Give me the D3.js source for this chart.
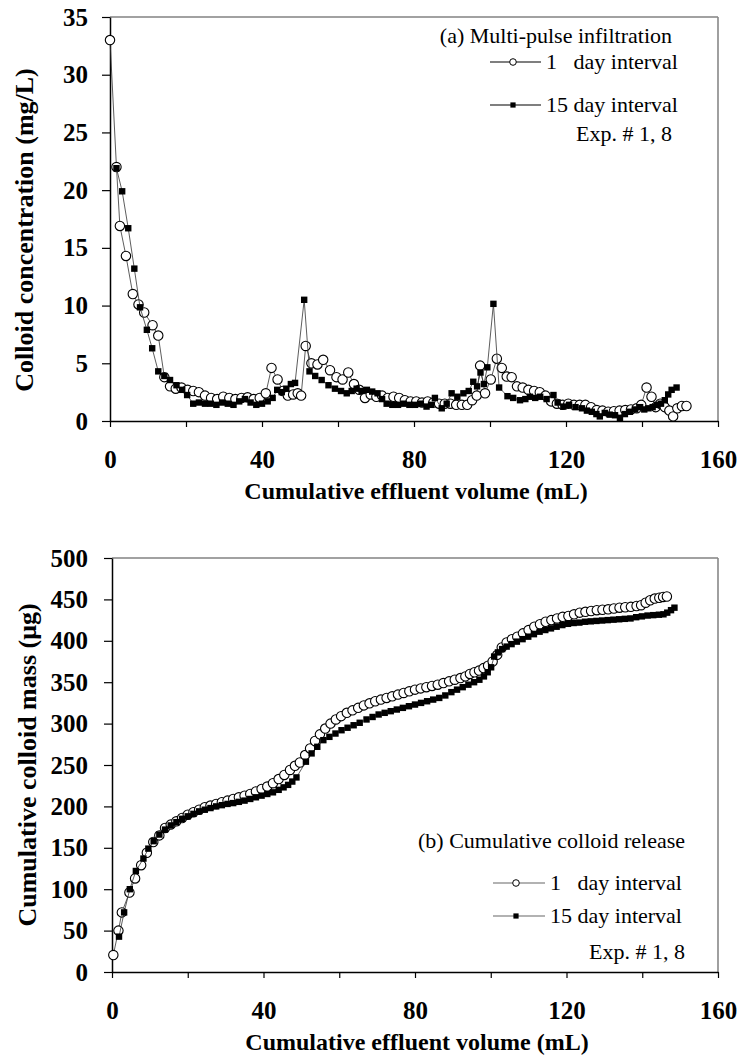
<!DOCTYPE html>
<html>
<head>
<meta charset="utf-8">
<script src="https://cdn.jsdelivr.net/npm/d3@7"></script>
<style>
  html, body { margin: 0; padding: 0; background: #fff; }
  svg { display: block; }
</style>
</head>
<body>
<svg id="chart" width="740" height="1057"></svg>
<script>
// ---------- DATA ----------
// Panel (a): colloid concentration (mg/L) vs cumulative effluent volume (mL)
const vol1 = [0, 1.7, 2.6, 4.2, 6.0, 7.5, 9.0, 11.2, 12.7, 14.3, 15.8, 17.3, 18.8, 20.4, 21.9, 23.4, 25.0, 26.6, 28.2, 29.8, 31.4, 33.0, 34.6, 36.2, 37.8, 39.4, 41.0, 42.5, 44.1, 45.5, 46.8, 48.2, 49.4, 50.3, 51.5, 53.0, 54.6, 56.1, 57.9, 59.6, 61.2, 62.7, 64.2, 65.6, 67.1, 68.6, 70.1, 71.6, 73.1, 74.6, 76.1, 77.6, 79.1, 80.6, 82.1, 83.6, 85.1, 86.6, 88.1, 89.6, 91.1, 92.6, 94.0, 95.3, 96.5, 97.4, 98.7, 100.2, 101.8, 103.1, 104.4, 105.7, 107.1, 108.6, 110.1, 111.6, 113.1, 114.6, 116.1, 117.6, 119.1, 120.6, 122.1, 123.6, 125.1, 126.6, 128.1, 129.6, 131.1, 132.6, 134.1, 135.6, 137.1, 138.6, 139.8, 141.2, 142.5, 143.6, 144.8, 146.0, 147.2, 148.2, 149.3, 150.5, 151.7];
const conc1 = [33.0, 22.0, 16.9, 14.3, 11.0, 10.1, 9.4, 8.3, 7.4, 3.8, 3.0, 2.8, 2.9, 2.7, 2.6, 2.5, 2.2, 2.0, 1.9, 2.1, 2.0, 1.9, 2.0, 2.05, 1.9, 2.0, 2.4, 4.6, 3.6, 2.6, 2.2, 2.3, 2.4, 2.2, 6.5, 5.0, 4.9, 5.3, 4.4, 3.8, 3.6, 4.2, 3.2, 2.7, 2.0, 2.3, 2.1, 2.2, 2.0, 2.1, 2.0, 1.8, 1.7, 1.7, 1.6, 1.7, 1.6, 1.5, 1.5, 1.5, 1.4, 1.4, 1.4, 1.8, 2.2, 4.8, 2.4, 3.6, 5.4, 4.6, 3.85, 3.8, 3.0, 2.9, 2.7, 2.6, 2.5, 2.2, 1.7, 1.5, 1.4, 1.5, 1.4, 1.4, 1.4, 1.2, 0.95, 0.9, 0.8, 0.85, 0.9, 0.95, 1.0, 1.1, 1.4, 2.9, 2.1, 1.2, 1.5, 1.2, 0.9, 0.4, 1.1, 1.3, 1.3];
const vol15 = [1.7, 3.2, 4.8, 6.4, 7.9, 9.7, 11.1, 12.7, 14.3, 15.8, 17.5, 19.0, 20.3, 21.9, 23.4, 25.0, 26.5, 28.0, 29.5, 31.0, 32.5, 34.0, 35.5, 37.0, 38.5, 40.0, 41.5, 42.8, 44.0, 45.2, 46.4, 47.6, 48.7, 51.1, 52.5, 54.0, 55.7, 57.5, 59.2, 60.8, 62.3, 63.6, 64.9, 66.2, 67.6, 69.0, 70.4, 71.6, 72.8, 74.3, 75.8, 77.3, 78.8, 80.3, 81.8, 83.3, 84.5, 85.5, 87.3, 88.6, 89.9, 91.4, 93.0, 94.4, 95.6, 96.6, 97.5, 98.4, 99.3, 100.9, 102.4, 104.6, 106.1, 107.9, 109.3, 110.5, 111.9, 113.2, 114.9, 116.7, 117.8, 119.3, 120.8, 122.5, 124.2, 125.5, 126.8, 128.0, 128.9, 130.2, 131.5, 132.9, 134.2, 135.5, 136.8, 138.2, 139.5, 140.6, 141.7, 142.8, 143.9, 145.0, 146.0, 146.9, 147.8, 149.1];
const conc15 = [21.9, 19.9, 16.7, 13.2, 9.85, 7.9, 6.3, 4.3, 3.9, 3.55, 3.1, 2.7, 2.25, 1.5, 1.6, 1.5, 1.5, 1.4, 1.6, 1.5, 1.4, 1.7, 1.9, 1.6, 1.4, 1.5, 1.7, 2.0, 2.7, 2.5, 2.8, 3.2, 3.3, 10.5, 4.3, 3.9, 3.55, 3.1, 2.8, 2.6, 2.4, 2.6, 2.8, 2.6, 2.7, 2.55, 2.4, 1.9, 1.5, 1.4, 1.4, 1.5, 1.4, 1.4, 1.5, 1.25, 1.4, 2.0, 1.1, 1.5, 2.4, 2.1, 2.4, 2.6, 3.4, 3.0, 4.2, 3.2, 4.65, 10.15, 2.9, 2.15, 2.0, 1.8, 1.9, 2.1, 2.0, 2.1, 1.9, 2.25, 1.6, 1.25, 1.4, 1.2, 1.1, 0.9, 0.8, 0.6, 0.4, 0.7, 0.55, 0.5, 0.25, 0.6, 0.8, 1.0, 1.2, 1.0, 1.1, 1.2, 1.4, 1.5, 1.8, 2.3, 2.7, 2.9];

// Panel (b): cumulative colloid mass (µg) vs cumulative effluent volume (mL)
const volCum1 = [0.35, 1.7, 2.6, 4.6, 6.1, 7.7, 9.2, 10.9, 12.5, 14.0, 15.5, 17.0, 18.5, 20.0, 21.5, 23.0, 24.5, 26.0, 27.5, 29.0, 30.5, 32.0, 33.5, 35.0, 36.5, 38.0, 39.5, 41.0, 42.5, 44.0, 45.5, 47.0, 48.3, 49.6, 51.0, 52.3, 53.6, 54.9, 56.3, 57.7, 59.1, 60.5, 62.0, 63.5, 65.0, 66.5, 68.0, 69.5, 71.0, 72.5, 74.0, 75.5, 77.0, 78.5, 80.0, 81.5, 83.0, 84.5, 86.0, 87.5, 89.0, 90.5, 92.0, 93.3, 94.5, 95.7, 96.9, 98.1, 99.3, 100.5, 101.7, 102.9, 104.2, 105.6, 107.0, 108.5, 110.0, 111.5, 113.0, 114.5, 116.0, 117.5, 119.0, 120.5, 122.0, 123.5, 125.0, 126.5, 128.0, 129.5, 131.0, 132.5, 134.0, 135.5, 137.0, 138.5, 139.7, 140.9, 142.1, 143.3, 144.5, 145.5, 146.5];
const mass1 = [20.5, 50, 72, 96, 113, 129, 144, 157, 165, 174, 178, 182, 186, 190, 193, 196, 199, 201, 203, 205, 207, 209, 211, 213, 215, 218, 221, 224, 228, 233, 238, 244, 249, 253, 262, 270, 279, 287, 294, 300, 305, 309, 313, 316, 319, 322, 324.5, 327, 329, 331, 333, 335, 337, 339, 341, 342.5, 344, 345.5, 347, 349, 351, 353, 355, 357, 360, 362, 364, 367, 370, 375, 383, 392, 398, 402, 405, 409, 413, 417, 420, 423, 425, 427, 429, 430, 432, 434, 435, 436, 437, 437.5, 438, 439, 440, 440.5, 441, 442, 443, 446, 449, 451, 452, 453, 453.5];
const volCum15 = [1.85, 3.2, 4.7, 6.3, 8.3, 9.6, 11.0, 12.5, 14.0, 15.5, 17.0, 18.5, 20.0, 21.5, 23.0, 24.5, 26.0, 27.5, 29.0, 30.5, 32.0, 33.5, 35.0, 36.5, 38.0, 39.5, 41.0, 42.5, 44.0, 45.3, 46.5, 47.6, 48.7, 51.2, 52.7, 54.2, 55.8, 57.4, 59.0, 60.6, 62.2, 63.8, 65.4, 67.2, 68.8, 70.4, 72.0, 73.6, 75.2, 76.8, 78.4, 80.0, 81.6, 83.2, 84.8, 86.4, 88.0, 89.6, 91.1, 92.6, 94.1, 95.6, 97.0, 98.2, 99.2, 100.1, 100.9, 101.9, 103.0, 104.2, 105.5, 106.9, 108.4, 109.9, 111.4, 112.9, 114.4, 115.9, 117.4, 118.9, 120.4, 121.9, 123.4, 124.9, 126.4, 127.9, 129.4, 130.9, 132.4, 133.9, 135.4, 136.9, 138.4, 139.9, 141.4, 142.9, 144.4, 145.6, 146.6, 147.6, 148.5];
const mass15 = [42.7, 72, 100, 122, 137, 149, 158, 166, 172, 177, 181, 185, 188, 191, 194, 196, 198, 200, 201.5, 203, 204, 205.5, 207, 209, 211, 213, 215, 217, 220, 223, 226, 230, 235, 254, 264, 272, 280, 284, 288, 292, 295, 298, 301, 305, 308, 311, 313, 315, 317, 319, 321, 323, 325, 327, 329, 331, 334, 338, 341, 344, 347, 350, 353, 357, 362, 368, 381, 386, 390, 393, 396, 399, 402, 405, 408, 411, 413, 415, 417, 419, 420.5, 421.5, 422, 423, 423.5, 424, 424.5, 425, 425.5, 426, 426.5, 427, 428.5, 429.5, 430.5, 431, 431.5, 432, 434, 437, 440];

// Ticks and labels
const xTicks = [0, 20, 40, 60, 80, 100, 120, 140, 160];
const xTickLabels = [0, 40, 80, 120, 160];
const yTicksA = [0, 5, 10, 15, 20, 25, 30, 35];
const yTicksB = [0, 50, 100, 150, 200, 250, 300, 350, 400, 450, 500];
const seriesNames = ["1   day interval", "15 day interval"];
const xTitle = "Cumulative effluent volume (mL)";
const yTitleA = "Colloid concentration (mg/L)";
const yTitleB = "Cumulative colloid mass (\u03bcg)";
const panelA = ["(a) Multi-pulse infiltration", "Exp. # 1, 8"];
const panelB = ["(b) Cumulative colloid release", "Exp. # 1, 8"];

// ---------- DRAWING ----------
const svg = d3.select("#chart");
const SERIF = "'Liberation Serif', 'Times New Roman', serif";

function drawPanel(cfg) {
  const { left, right, top, bottom, yMax, yTicks, yPad, s1x, s1y, s15x, s15y, yTitle, yTitleX, yTitleY, legend } = cfg;
  const x = d3.scaleLinear().domain([0, 160]).range([left, right]);
  const y = d3.scaleLinear().domain([0, yMax]).range([bottom, top]);
  const g = svg.append("g");

  // frame top and right
  g.append("line").attr("x1", left).attr("x2", right).attr("y1", top).attr("y2", top)
    .attr("stroke", "#444").attr("stroke-width", 1.2);
  g.append("line").attr("x1", right).attr("x2", right).attr("y1", top).attr("y2", bottom)
    .attr("stroke", "#888").attr("stroke-width", 1.6);

  // y axis
  const ya = g.append("g").attr("transform", `translate(${left},0)`)
    .call(d3.axisLeft(y).tickValues(yTicks).tickSize(8).tickSizeOuter(0).tickPadding(yPad).tickFormat(d3.format("d")));
  ya.select(".domain").attr("stroke", "#000").attr("stroke-width", 1.5);
  ya.selectAll(".tick line").attr("stroke", "#000").attr("stroke-width", 1.2);
  ya.selectAll("text").attr("font-family", SERIF).attr("font-weight", "bold").attr("font-size", 25).attr("fill", "#000");

  // x axis
  const xa = g.append("g").attr("transform", `translate(0,${bottom})`)
    .call(d3.axisBottom(x).tickValues(xTicks).tickSize(6).tickSizeOuter(0).tickPadding(23)
      .tickFormat(d => xTickLabels.includes(d) ? String(d) : ""));
  xa.select(".domain").attr("stroke", "#000").attr("stroke-width", 1.5);
  xa.selectAll(".tick line").attr("stroke", "#000").attr("stroke-width", 1.2);
  xa.selectAll("text").attr("font-family", SERIF).attr("font-weight", "bold").attr("font-size", 25).attr("fill", "#000");

  // axis titles
  g.append("text").attr("x", (left + right) / 2 + 2).attr("y", bottom + 78)
    .attr("text-anchor", "middle").attr("font-family", SERIF).attr("font-weight", "bold")
    .attr("font-size", 24).text(xTitle);
  g.append("text").attr("transform", `translate(${yTitleX},${yTitleY}) rotate(-90)`)
    .attr("text-anchor", "middle").attr("font-family", SERIF).attr("font-weight", "bold")
    .attr("font-size", 26).text(yTitle);

  const line = d3.line().x(d => x(d[0])).y(d => y(d[1]));
  const d1 = s1x.map((v, i) => [v, s1y[i]]);
  const d15 = s15x.map((v, i) => [v, s15y[i]]);

  // 1-day series: thin line + open circles
  g.append("path").datum(d1).attr("d", line).attr("fill", "none").attr("stroke", "#333").attr("stroke-width", 0.8);
  g.append("g").selectAll("circle").data(d1).join("circle")
    .attr("cx", d => x(d[0])).attr("cy", d => y(d[1])).attr("r", 4.7)
    .attr("fill", "#fff").attr("stroke", "#000").attr("stroke-width", 1.1);

  // 15-day series: thin line + filled squares
  g.append("path").datum(d15).attr("d", line).attr("fill", "none").attr("stroke", "#333").attr("stroke-width", 0.8);
  g.append("g").selectAll("rect").data(d15).join("rect")
    .attr("x", d => x(d[0]) - 3.2).attr("y", d => y(d[1]) - 3.2).attr("width", 6.4).attr("height", 6.4)
    .attr("fill", "#000");

  // legend
  const L = legend;
  g.append("text").attr("x", L.textRight).attr("y", L.titleY).attr("text-anchor", "end")
    .attr("font-family", SERIF).attr("font-size", 22).text(L.title);
  L.rows.forEach((ry, i) => {
    g.append("line").attr("x1", L.lineX0).attr("x2", L.lineX1).attr("y1", ry).attr("y2", ry)
      .attr("stroke", L.lineColor).attr("stroke-width", 1.2);
    if (i === 0) {
      g.append("circle").attr("cx", L.markX).attr("cy", ry).attr("r", 3.3)
        .attr("fill", "#fff").attr("stroke", "#000").attr("stroke-width", 1);
    } else {
      g.append("rect").attr("x", L.markX - 2.6).attr("y", ry - 2.6).attr("width", 5.2).attr("height", 5.2).attr("fill", "#000");
    }
    g.append("text").attr("x", L.lineX1 + 5).attr("y", ry + 7).attr("xml:space", "preserve")
      .style("white-space", "pre")
      .attr("font-family", SERIF).attr("font-size", 22).text(seriesNames[i]);
  });
  g.append("text").attr("x", L.textRight).attr("y", L.expY).attr("text-anchor", "end")
    .attr("font-family", SERIF).attr("font-size", 22).text(L.exp);
}

drawPanel({
  left: 110, right: 718, top: 17, bottom: 421, yMax: 35, yTicks: yTicksA, yPad: 14,
  s1x: vol1, s1y: conc1, s15x: vol15, s15y: conc15,
  yTitle: yTitleA, yTitleX: 33, yTitleY: 230,
  legend: { title: panelA[0], exp: panelA[1], textRight: 672, titleY: 43, rows: [62, 105],
            lineX0: 490, lineX1: 541, markX: 513, expY: 141, lineColor: "#000" }
});

drawPanel({
  left: 112, right: 718, top: 558, bottom: 972, yMax: 500, yTicks: yTicksB, yPad: 16,
  s1x: volCum1, s1y: mass1, s15x: volCum15, s15y: mass15,
  yTitle: yTitleB, yTitleX: 36, yTitleY: 765,
  legend: { title: panelB[0], exp: panelB[1], textRight: 685, titleY: 848, rows: [883, 916],
            lineX0: 493, lineX1: 545, markX: 516, expY: 959, lineColor: "#666" }
});
</script>
</body>
</html>
